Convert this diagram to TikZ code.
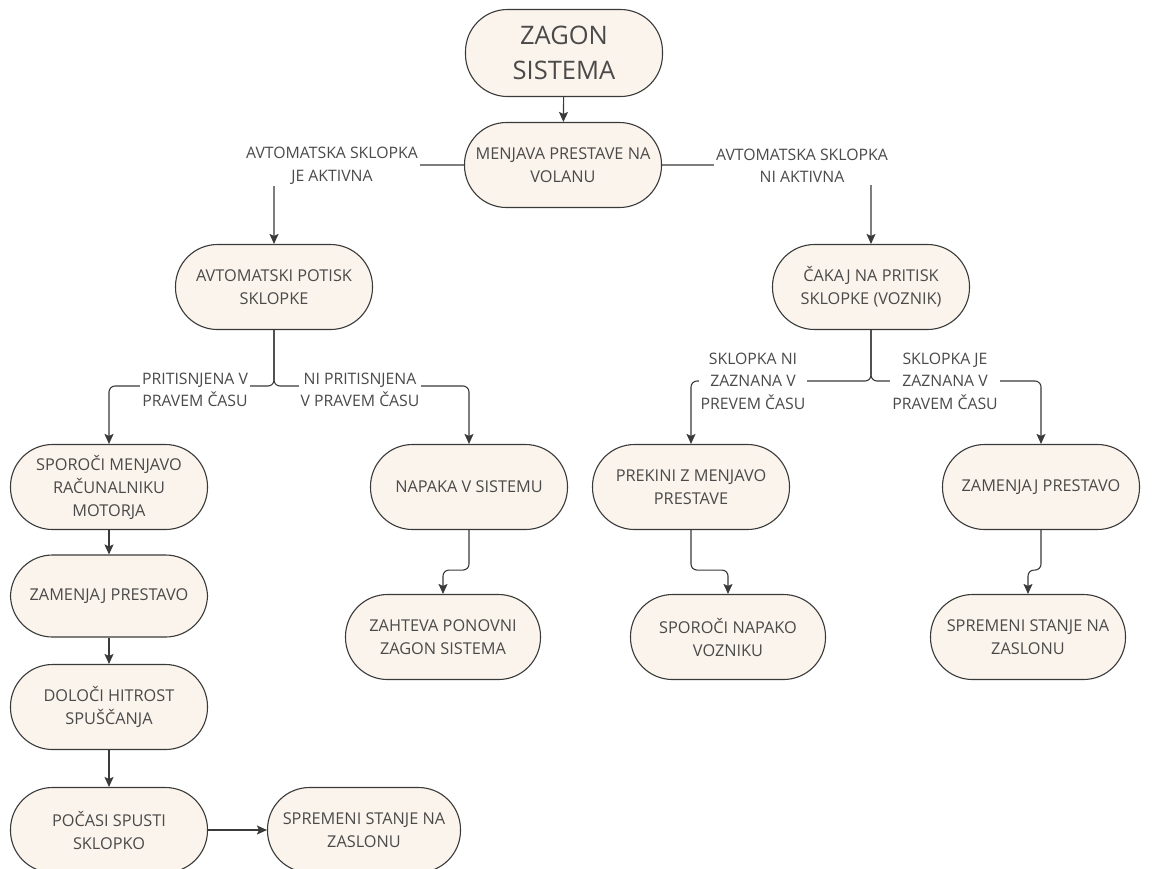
\documentclass[tikz,border=0pt]{standalone}
\usepackage{fontspec}
\setmainfont{Open Sans}
\usetikzlibrary{arrows.meta}
\definecolor{lc}{HTML}{3A3A3A}
\definecolor{boxfill}{HTML}{FBF4EC}
\definecolor{tc}{HTML}{4A4A4A}
\tikzset{
  box/.style={draw=lc, fill=boxfill, rounded corners=42pt, minimum width=197pt, minimum height=85pt,
    align=center, font=\fontsize{16.3}{23}\selectfont, text=tc, line width=1.1pt, inner sep=2pt},
  lbl/.style={fill=white, align=center, inner sep=2pt, font=\fontsize{15.8}{22.5}\selectfont, text=tc},
  arr/.style={-{Stealth[length=10pt,width=9pt,inset=2pt]}, draw=lc, line width=1.1pt, rounded corners=6pt},
}
\begin{document}
\begin{tikzpicture}[x=1pt,y=-1pt]
\useasboundingbox[fill=white] (0,0) rectangle (1153,868);
% nodes
\node[box, minimum height=87pt, font=\fontsize{25.5}{35}\selectfont] (zagon) at (564,53) {ZAGON\\SISTEMA};
\node[box] (menj) at (563,165) {MENJAVA PRESTAVE NA\\VOLANU};
\node[box] (avt) at (274,287) {AVTOMATSKI POTISK\\SKLOPKE};
\node[box] (cak) at (871,287) {ČAKAJ NA PRITISK\\SKLOPKE (VOZNIK)};
\node[box] (spor) at (109,487) {SPOROČI MENJAVO\\RAČUNALNIKU\\MOTORJA};
\node[box] (nap) at (469,487) {NAPAKA V SISTEMU};
\node[box] (prek) at (691,487) {PREKINI Z MENJAVO\\PRESTAVE};
\node[box] (zamR) at (1041,487) {ZAMENJAJ PRESTAVO};
\node[box, minimum height=82pt] (zamL) at (109,596) {ZAMENJAJ PRESTAVO};
\node[box, minimum width=195pt] (zaht) at (443,637) {ZAHTEVA PONOVNI\\ZAGON SISTEMA};
\node[box, minimum width=195pt] (spnap) at (728,637) {SPOROČI NAPAKO\\VOZNIKU};
\node[box, minimum width=195pt] (sprR) at (1028,637) {SPREMENI STANJE NA\\ZASLONU};
\node[box] (dol) at (109,707) {DOLOČI HITROST\\SPUŠČANJA};
\node[box] (poc) at (109,830) {POČASI SPUSTI\\SKLOPKO};
\node[box, minimum width=193pt] (sprL) at (364,830) {SPREMENI STANJE NA\\ZASLONU};
% junction coordinates
\coordinate (j1) at (274,386);
\coordinate (j2) at (871,381);
% connectors
\draw[arr] (zagon) -- (menj);
\draw[arr] (menj.west) -| (avt.north);
\draw[arr] (menj.east) -| (cak.north);
\draw[arr] (avt.south) -- (j1) -| (spor.north);
\draw[arr] (avt.south) -- (j1) -| (nap.north);
\draw[arr] (cak.south) -- (j2) -| (prek.north);
\draw[arr] (cak.south) -- (j2) -| (zamR.north);
\draw[arr] (spor) -- (zamL);
\draw[arr] (zamL) -- (dol);
\draw[arr] (dol) -- (poc);
\draw[arr] (poc) -- (sprL);
\draw[arr] (nap.south) -- ++(0,40) -| (zaht.north);
\draw[arr] (prek.south) -- ++(0,40) -| (spnap.north);
\draw[arr] (zamR.south) -- ++(0,40) -| (sprR.north);
% labels
\node[lbl] (l1) at (332,166) {AVTOMATSKA SKLOPKA\\JE AKTIVNA};
\node[lbl] (l2) at (802,166) {AVTOMATSKA SKLOPKA\\NI AKTIVNA};
\node[lbl] (l3) at (195,390) {PRITISNJENA V\\PRAVEM ČASU};
\node[lbl] (l4) at (360,390) {NI PRITISNJENA\\V PRAVEM ČASU};
\node[lbl] (l5) at (753,381) {SKLOPKA NI\\ZAZNANA V\\PREVEM ČASU};
\node[lbl] (l6) at (945,381) {SKLOPKA JE\\ZAZNANA V\\PRAVEM ČASU};
\end{tikzpicture}
\end{document}
